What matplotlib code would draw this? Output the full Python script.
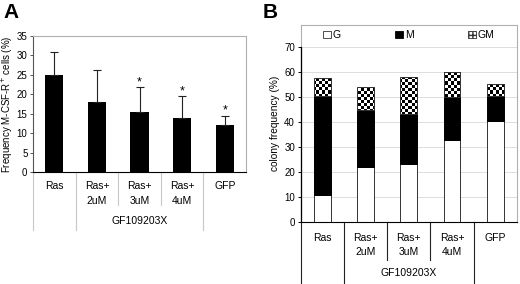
import numpy as np
import matplotlib
matplotlib.use('Agg')
import matplotlib.pyplot as plt
from matplotlib.patches import Patch

plt.rcParams['font.family'] = ['Liberation Sans', 'DejaVu Sans']

# data
cats = ['Ras', 'Ras+\n2uM', 'Ras+\n3uM', 'Ras+\n4uM', 'GFP']
group_label = 'GF109203X'

# panel A
freq_mcsfr = [25.0, 18.0, 15.5, 14.0, 12.0]
freq_err = [6.0, 8.3, 6.3, 5.6, 2.5]
signif = [False, False, True, True, True]

# panel B (colony frequency, %)
col_G = [11.0, 22.0, 23.2, 32.8, 40.2]
col_M = [39.3, 22.7, 20.0, 17.2, 10.1]
col_GM = [7.2, 9.1, 14.6, 10.0, 4.9]

fig = plt.figure(figsize=(5.2, 2.84), dpi=100)
W, H = 520., 284.

def add_ax(l, r, t, b):
    return fig.add_axes([l/W, 1-b/H, (r-l)/W, (b-t)/H])

x = np.arange(len(cats))
fs = 7.5

def cat_axis(ax, txt_y1, txt_y2, grp_y, short_y, long_y, col):
    tr = ax.get_xaxis_transform()
    n = len(cats)
    for i in range(n):
        y_end = long_y if i in (0, 1, n-1) else short_y
        ax.plot([i-0.5, i-0.5], [0, y_end], transform=tr, color=col, lw=0.8, clip_on=False)
    for i, c in enumerate(cats):
        lines = c.split('\n')
        ax.text(i, txt_y1, lines[0], transform=tr, ha='center', va='center', fontsize=fs)
        if len(lines) > 1:
            ax.text(i, txt_y2, lines[1], transform=tr, ha='center', va='center', fontsize=fs)
    ax.text((1+n-2)/2., grp_y, group_label, transform=tr, ha='center', va='center', fontsize=fs)
    ax.set_xticks([])
    ax.set_xlim(-0.5, n-0.5)

# ---------------- panel A
axA = add_ax(33, 246, 36, 172)
axA.bar(x, freq_mcsfr, width=0.43, color='black', zorder=2)
axA.errorbar(x, freq_mcsfr, yerr=[np.zeros(len(x)), freq_err], fmt='none',
             ecolor='#222222', elinewidth=0.8, capsize=3, capthick=0.8, zorder=3)
for i in range(len(x)):
    if signif[i]:
        axA.text(x[i], freq_mcsfr[i]+freq_err[i]-0.3, '*', ha='center', va='bottom', fontsize=9)
axA.set_ylim(0, 35)
axA.set_yticks(np.arange(0, 36, 5))
axA.tick_params(axis='y', labelsize=7, length=2.5, width=0.7, pad=1.5, color='#555555')
for s in ['top', 'right']:
    axA.spines[s].set_color('#b0b0b0')
axA.spines['left'].set_color('#555555')
axA.spines['bottom'].set_color('black')
for s in axA.spines.values():
    s.set_linewidth(0.8)
axA.set_ylabel('Frequency M-CSF-R$^{+}$ cells (%)', fontsize=7, labelpad=1)
cat_axis(axA, -0.105, -0.21, -0.36, -0.245, -0.43, '#c8c8c8')
fig.text(3/W, 1-12/H, 'A', fontsize=15, fontweight='bold', va='center', ha='left')

# ---------------- panel B
axB = add_ax(300.5, 517, 25, 222.3)
ytop = 78.6
bG = axB.bar(x, col_G, width=0.39, color='white', edgecolor='#333333', lw=0.7, zorder=2)
bM = axB.bar(x, col_M, bottom=col_G, width=0.39, color='black', edgecolor='black', lw=0.7, zorder=2)
bot_gm = np.array(col_G) + np.array(col_M)
bGM = axB.bar(x, col_GM, bottom=bot_gm, width=0.39, color='white', edgecolor='#333333', lw=0.7, zorder=2)

# checkerboard fill for GM
nx, ny = 72, 66
checker = (np.add.outer(np.arange(ny), np.arange(nx)) % 2).astype(float)
for p in bGM:
    im = axB.imshow(checker, cmap='gray', extent=[-0.5, 4.5, 0, ytop], aspect='auto',
                    interpolation='nearest', zorder=2.5, origin='lower')
    im.set_clip_path(p)
for p in bGM:
    axB.add_patch(plt.Rectangle(p.get_xy(), p.get_width(), p.get_height(), fill=False,
                                edgecolor='#333333', lw=0.7, zorder=3))

axB.set_ylim(0, ytop)
axB.set_yticks(np.arange(0, 71, 10))
for yv in np.arange(10, 71, 10):
    axB.axhline(yv, color='#dddddd', lw=0.7, zorder=1)
axB.tick_params(axis='y', labelsize=7, length=2.5, width=0.7, pad=1.5)
for s in ['top', 'right', 'left']:
    axB.spines[s].set_color('#b0b0b0')
    axB.spines[s].set_linewidth(0.8)
axB.spines['bottom'].set_color('black')
axB.spines['bottom'].set_linewidth(0.8)
axB.plot([-0.5, -0.5], [0, 70], color='black', lw=0.9, clip_on=False, zorder=4)
axB.set_ylabel('colony frequency (%)', fontsize=7.3, labelpad=3)
cat_axis(axB, -0.08, -0.148, -0.255, -0.19, -0.32, '#222222')

handles = [Patch(facecolor='white', edgecolor='#333333', lw=0.6, label='G'),
           Patch(facecolor='black', edgecolor='black', lw=0.6, label='M'),
           Patch(facecolor='white', edgecolor='#333333', lw=0.6, hatch='++++', label='GM')]
axB.legend(handles=handles, ncol=3, loc='center', bbox_to_anchor=(0.5, 0.949),
           frameon=False, fontsize=7.5, handlelength=0.75, handleheight=0.75,
           handletextpad=0.2, columnspacing=5.2, borderaxespad=0)
fig.text(263/W, 1-12/H, 'B', fontsize=15, fontweight='bold', va='center', ha='left')

fig.savefig('out.png', dpi=100)
